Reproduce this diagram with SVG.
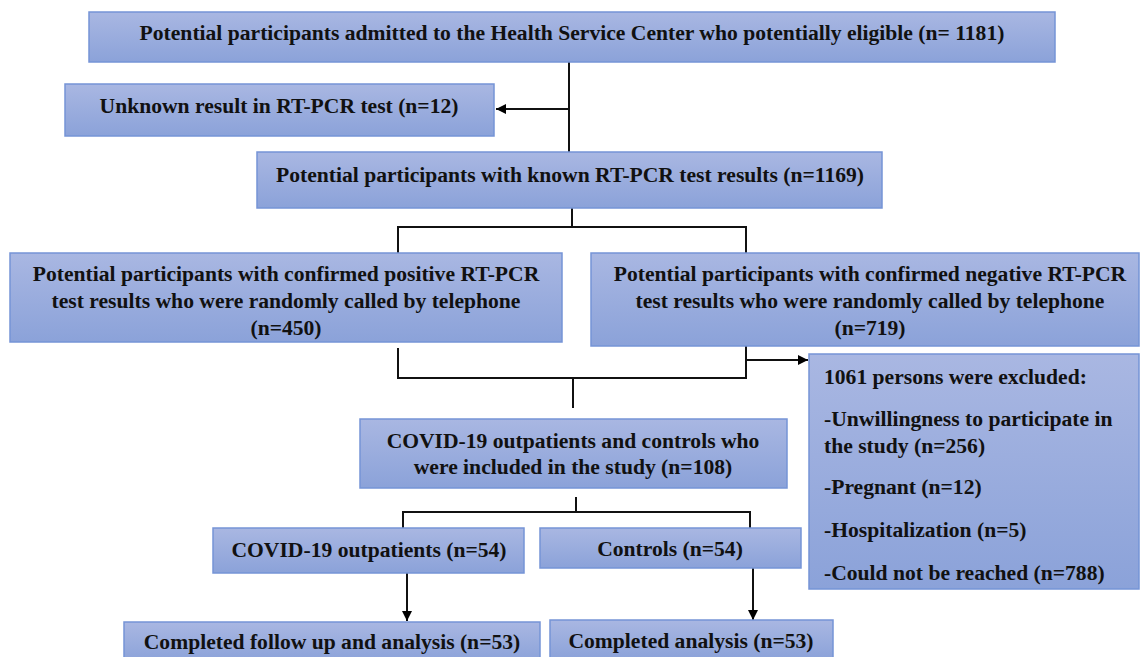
<svg xmlns="http://www.w3.org/2000/svg" width="1140" height="657" viewBox="0 0 1140 657">
<defs>
<linearGradient id="g" x1="0" y1="0" x2="0" y2="1">
<stop offset="0" stop-color="#a9b7e2"/>
<stop offset="1" stop-color="#8ba2d9"/>
</linearGradient>
<marker id="ah" viewBox="0 0 10 10" refX="10" refY="5" markerWidth="5" markerHeight="5" orient="auto" markerUnits="strokeWidth">
<path d="M0,0 L10,5 L0,10 z" fill="#000"/>
</marker>
<style>
.box{fill:url(#g);stroke:#7594d6;stroke-width:1.5}
.t{font-family:"Liberation Serif","Times New Roman",serif;font-weight:bold;font-size:21.6px;fill:#111}
.c{text-anchor:middle}
.ln{fill:none;stroke:#111;stroke-width:2}
</style>
</defs>
<rect width="1140" height="657" fill="#fff"/>
<g id="connectors">
<path class="ln" d="M569,62 V152"/>
<path class="ln" d="M569,109 H496" marker-end="url(#ah)"/>
<path class="ln" d="M572,208 V227 M398,253 V227 H746 V253"/>
<path class="ln" d="M398,348 V378 H746 V346 M573,378 V408"/>
<path class="ln" d="M746,360 H808" marker-end="url(#ah)"/>
<path class="ln" d="M576,497 V512 M403,528 V512 H750 V528"/>
<path class="ln" d="M407,573 V621" marker-end="url(#ah)"/>
<path class="ln" d="M753,568 V620" marker-end="url(#ah)"/>
</g>
<g id="n1"><rect class="box" x="89" y="12" width="966" height="50"/>
<text class="t c" x="572" y="40">Potential participants admitted to the Health Service Center who potentially eligible (n= 1181)</text></g>
<g id="n2"><rect class="box" x="65" y="84" width="429" height="52"/>
<text class="t c" x="279" y="113">Unknown result in RT-PCR test (n=12)</text></g>
<g id="n3"><rect class="box" x="257" y="152" width="625" height="56"/>
<text class="t c" x="570" y="182">Potential participants with known RT-PCR test results (n=1169)</text></g>
<g id="n4"><rect class="box" x="10" y="253" width="552" height="89"/>
<text class="t c" x="286" y="281">Potential participants with confirmed positive RT-PCR</text>
<text class="t c" x="286" y="308">test results who were randomly called by telephone</text>
<text class="t c" x="286" y="335">(n=450)</text></g>
<g id="n5"><rect class="box" x="591" y="253" width="548" height="93"/>
<text class="t c" x="870" y="281">Potential participants with confirmed negative RT-PCR</text>
<text class="t c" x="870" y="308">test results who were randomly called by telephone</text>
<text class="t c" x="870" y="335">(n=719)</text></g>
<g id="n6"><rect class="box" x="809" y="354" width="330" height="235"/>
<text class="t" x="824" y="384">1061 persons were excluded:</text>
<text class="t" x="824" y="426">-Unwillingness to participate in</text>
<text class="t" x="824" y="453">the study (n=256)</text>
<text class="t" x="824" y="494">-Pregnant (n=12)</text>
<text class="t" x="824" y="537">-Hospitalization (n=5)</text>
<text class="t" x="824" y="580">-Could not be reached (n=788)</text></g>
<g id="n7"><rect class="box" x="360" y="419" width="427" height="69"/>
<text class="t c" x="573" y="448">COVID-19 outpatients and controls who</text>
<text class="t c" x="573" y="474">were included in the study (n=108)</text></g>
<g id="n8"><rect class="box" x="213" y="528" width="311" height="45"/>
<text class="t c" x="369" y="557">COVID-19 outpatients (n=54)</text></g>
<g id="n9"><rect class="box" x="540" y="528" width="261" height="40"/>
<text class="t c" x="670" y="556">Controls (n=54)</text></g>
<g id="n10"><rect class="box" x="124" y="622" width="416" height="40"/>
<text class="t c" x="332" y="649">Completed follow up and analysis (n=53)</text></g>
<g id="n11"><rect class="box" x="550" y="620" width="283" height="40"/>
<text class="t c" x="691" y="648">Completed analysis (n=53)</text></g>
</svg>
